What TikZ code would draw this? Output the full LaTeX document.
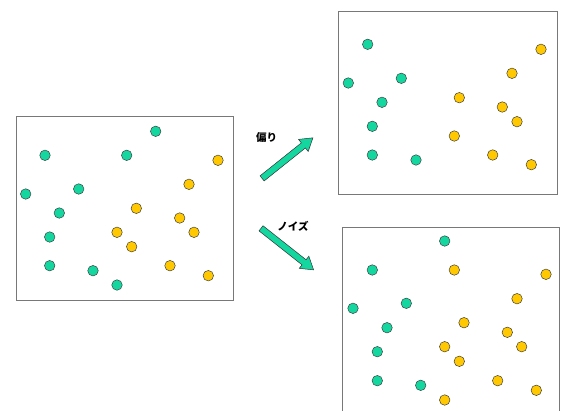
\documentclass[tikz,border=0pt]{standalone}
\usepackage{fontspec}
\newfontfamily\cjk{Noto Sans CJK JP}
\usetikzlibrary{shapes.arrows}
\definecolor{dotgreen}{RGB}{20,215,160}
\definecolor{dotyellow}{RGB}{255,200,0}
\definecolor{framegray}{RGB}{120,120,120}
\begin{document}
\begin{tikzpicture}[x=1pt,y=-1pt,
  panel/.style={draw=framegray,line width=0.9pt,inner sep=0pt},
  gdot/.style={circle,draw=black!75,line width=0.5pt,fill=dotgreen,minimum size=10.5pt,inner sep=0pt},
  ydot/.style={circle,draw=black!75,line width=0.5pt,fill=dotyellow,minimum size=10.5pt,inner sep=0pt},
  blockarrow/.style={single arrow,draw=black!80,line width=0.5pt,fill=dotgreen,inner xsep=0pt,inner ysep=3pt,
    minimum width=0pt,single arrow head extend=4.5pt,single arrow tip angle=65},
  tag/.style={font=\cjk\bfseries\fontsize{10.5}{12}\selectfont,inner sep=0pt}]
\useasboundingbox (0,0) rectangle (561,410);
% original sample
\node[panel,minimum width=217pt,minimum height=184pt] (orig) at (124.5,208) {};
\foreach \x/\y [count=\i] in {155.7/131.3,45/155.3,126.7/155.3,25.7/194,78.7/189,59.3/213,49.7/237,49.7/265.7,93/270.7,117/285}
  \node[gdot] (orig-g\i) at (\x,\y) {};
\foreach \x/\y [count=\i] in {218/160.3,189/184.3,136.3/208.3,179.7/218,117/232.3,194/232.3,131.7/246.7,170/265.7,208.3/275.7}
  \node[ydot] (orig-y\i) at (\x,\y) {};
% biased sample
\node[panel,minimum width=219pt,minimum height=183pt] (bias) at (447.5,102.5) {};
\foreach \x/\y [count=\i] in {367.7/44.3,348.3/83,401.3/78.3,382/102.3,372.3/126.3,372.3/155,416/160}
  \node[gdot] (bias-g\i) at (\x,\y) {};
\foreach \x/\y [count=\i] in {541/49.3,512/73.3,459.3/97.7,502.3/107,517/121.7,454.3/136,492.7/155,531.3/164.7}
  \node[ydot] (bias-y\i) at (\x,\y) {};
% noisy sample
\node[panel,minimum width=217pt,minimum height=184pt] (noise) at (450.5,319.5) {};
\foreach \x/\y [count=\i] in {444.7/241,372.3/270,353/308.3,406.3/303.3,387/327.7,377.3/351.7,377.3/380.7,420.7/385.3}
  \node[gdot] (noise-g\i) at (\x,\y) {};
\foreach \x/\y [count=\i] in {454.3/270,546/274.3,517/298.7,464/322.7,507.3/332.3,444.7/346.7,521.7/346.7,459.3/361.3,497.7/380.7,536.3/390.3,444.7/400}
  \node[ydot] (noise-y\i) at (\x,\y) {};
% arrows
\node[blockarrow,minimum height=65pt,rotate=38.6] (to-bias) at (285.5,159.7) {};
\node[tag] (bias-label) at (266.5,137.5) {偏り};
\node[blockarrow,minimum height=67pt,rotate=-38.3] (to-noise) at (285.3,247.5) {};
\node[tag] (noise-label) at (293,226.5) {ノイズ};
\end{tikzpicture}
\end{document}
